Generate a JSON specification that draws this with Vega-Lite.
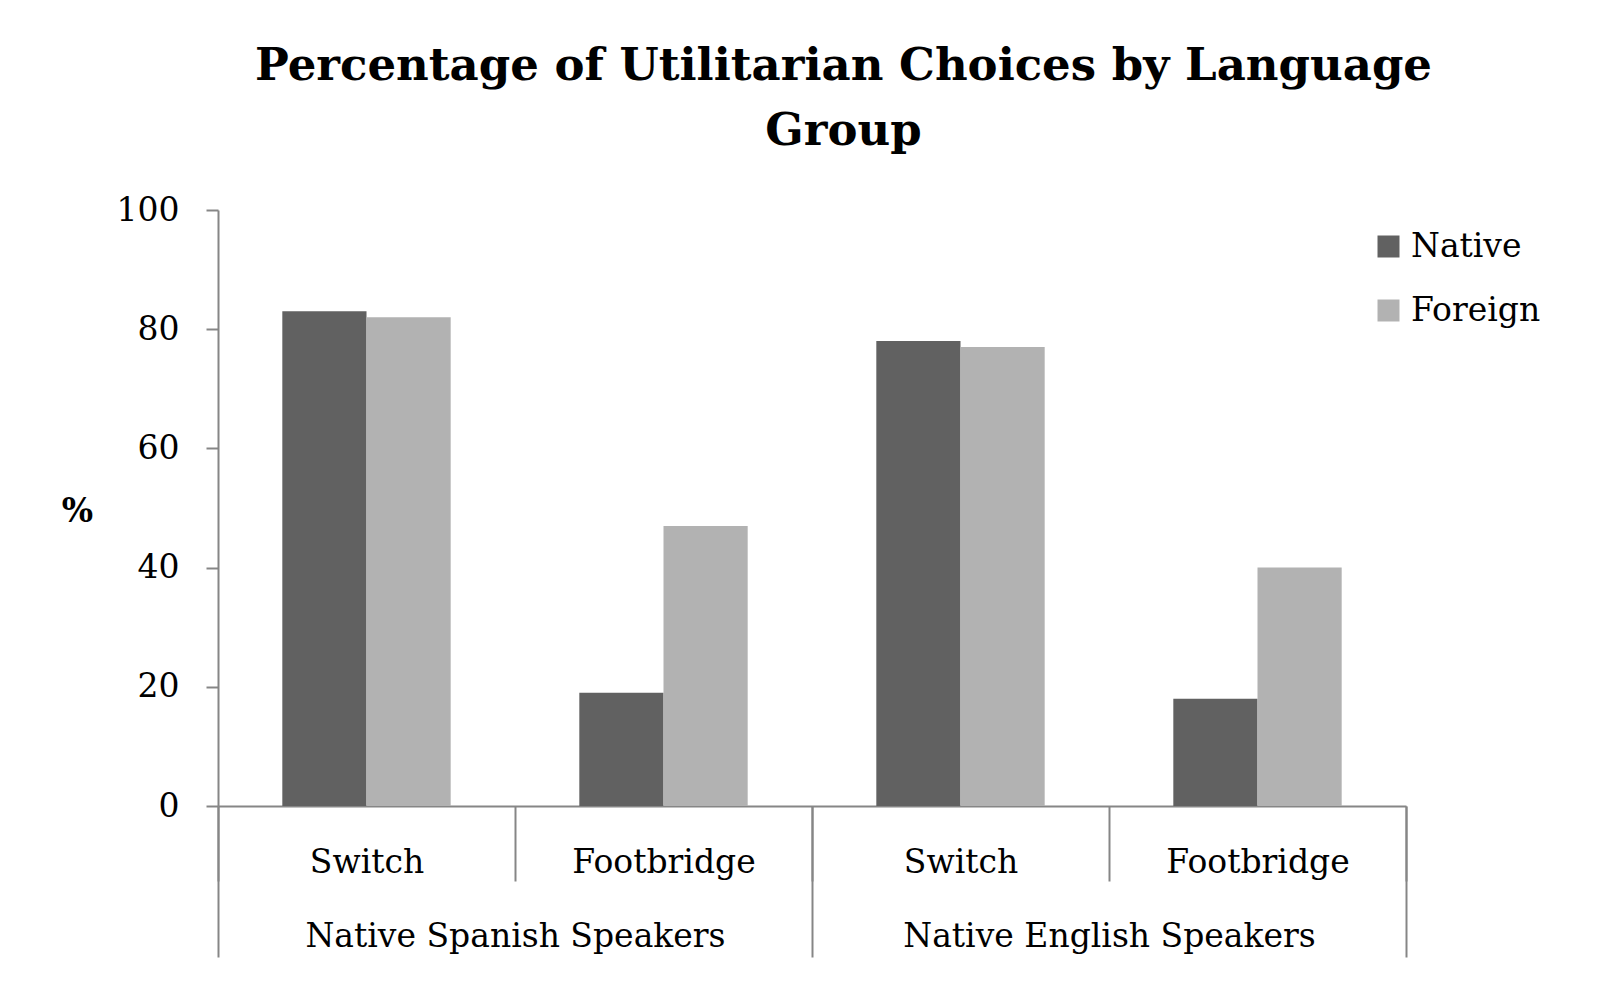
{
  "$schema": "https://vega.github.io/schema/vega-lite/v6.json",
  "width": 1188,
  "height": 596,
  "autosize": {"type": "none"},
  "padding": {"left": 218, "top": 210, "right": 194, "bottom": 192},
  "background": "white",
  "data": {
    "values": [
      {"group": "Native Spanish Speakers", "cat": "Native Spanish Speakers|Switch", "lang": "Native", "pct": 83},
      {"group": "Native Spanish Speakers", "cat": "Native Spanish Speakers|Switch", "lang": "Foreign", "pct": 82},
      {"group": "Native Spanish Speakers", "cat": "Native Spanish Speakers|Footbridge", "lang": "Native", "pct": 19},
      {"group": "Native Spanish Speakers", "cat": "Native Spanish Speakers|Footbridge", "lang": "Foreign", "pct": 47},
      {"group": "Native English Speakers", "cat": "Native English Speakers|Switch", "lang": "Native", "pct": 78},
      {"group": "Native English Speakers", "cat": "Native English Speakers|Switch", "lang": "Foreign", "pct": 77},
      {"group": "Native English Speakers", "cat": "Native English Speakers|Footbridge", "lang": "Native", "pct": 18},
      {"group": "Native English Speakers", "cat": "Native English Speakers|Footbridge", "lang": "Foreign", "pct": 40}
    ]
  },
  "layer": [
    {
      "mark": {"type": "bar"},
      "encoding": {
        "x": {
          "field": "cat",
          "type": "nominal",
          "sort": null,
          "scale": {
            "domain": ["Native Spanish Speakers|Switch", "Native Spanish Speakers|Footbridge", "Native English Speakers|Switch", "Native English Speakers|Footbridge"],
            "paddingInner": 0,
            "paddingOuter": 0
          },
          "axis": {
            "title": null,
            "orient": "bottom",
            "labelExpr": "split(datum.value, '|')[1]",
            "labelAngle": 0,
            "tickBand": "extent",
            "tickSize": 75,
            "labelPadding": -35,
            "labelOverlap": false,
            "labelLimit": 0
          }
        },
        "xOffset": {
          "field": "lang",
          "type": "nominal",
          "sort": ["Native", "Foreign"],
          "scale": {"paddingInner": 0, "paddingOuter": 0.764}
        },
        "y": {
          "field": "pct",
          "type": "quantitative",
          "scale": {"domain": [0, 100], "nice": false},
          "axis": {
            "orient": "left",
            "values": [0, 20, 40, 60, 80, 100],
            "grid": false,
            "tickSize": 12,
            "labelPadding": 27,
            "title": "%",
            "titleAngle": 0,
            "titleFontWeight": "bold",
            "titleFontSize": 33,
            "titleAlign": "center",
            "titleBaseline": "middle",
            "titleX": -141,
            "titleY": 301
          }
        },
        "color": {
          "field": "lang",
          "type": "nominal",
          "sort": ["Native", "Foreign"],
          "scale": {"domain": ["Native", "Foreign"], "range": ["#616161", "#b2b2b2"]},
          "legend": {
            "title": null,
            "orient": "none",
            "legendX": 1154,
            "legendY": 20,
            "symbolType": "square",
            "symbolSize": 484,
            "symbolStrokeWidth": 0,
            "labelFontSize": 33,
            "labelFont": "DejaVu Serif",
            "labelColor": "black",
            "labelOffset": 6,
            "labelLimit": 0,
            "rowPadding": 30,
            "padding": 0
          }
        }
      }
    },
    {
      "mark": {"type": "bar", "opacity": 0},
      "encoding": {
        "x": {
          "field": "group",
          "type": "nominal",
          "sort": null,
          "scale": {
            "domain": ["Native Spanish Speakers", "Native English Speakers"],
            "paddingInner": 0,
            "paddingOuter": 0
          },
          "axis": {
            "title": null,
            "orient": "bottom",
            "domain": false,
            "labelAngle": 0,
            "tickBand": "extent",
            "tickSize": 151,
            "labelPadding": -37,
            "labelOverlap": false,
            "labelLimit": 0
          }
        },
        "y": {
          "field": "pct",
          "type": "quantitative",
          "axis": {
            "orient": "right",
            "domain": false,
            "ticks": false,
            "labels": false,
            "grid": false,
            "title": ["Percentage of Utilitarian Choices by Language", "Group"],
            "titleAngle": 0,
            "titleFont": "DejaVu Serif",
            "titleFontSize": 45,
            "titleFontWeight": "bold",
            "titleAlign": "center",
            "titleBaseline": "alphabetic",
            "titleLineHeight": 65,
            "titleLimit": 0,
            "titleX": -563,
            "titleY": -131
          }
        }
      }
    }
  ],
  "resolve": {"scale": {"x": "independent"}, "axis": {"y": "independent"}},
  "config": {
    "font": "DejaVu Serif",
    "view": {"stroke": null},
    "axis": {
      "domainColor": "#868686",
      "domainWidth": 2,
      "tickColor": "#868686",
      "tickWidth": 2,
      "labelFont": "DejaVu Serif",
      "labelFontSize": 33,
      "labelColor": "black",
      "titleColor": "black",
      "titleFont": "DejaVu Serif",
      "grid": false
    }
  }
}
